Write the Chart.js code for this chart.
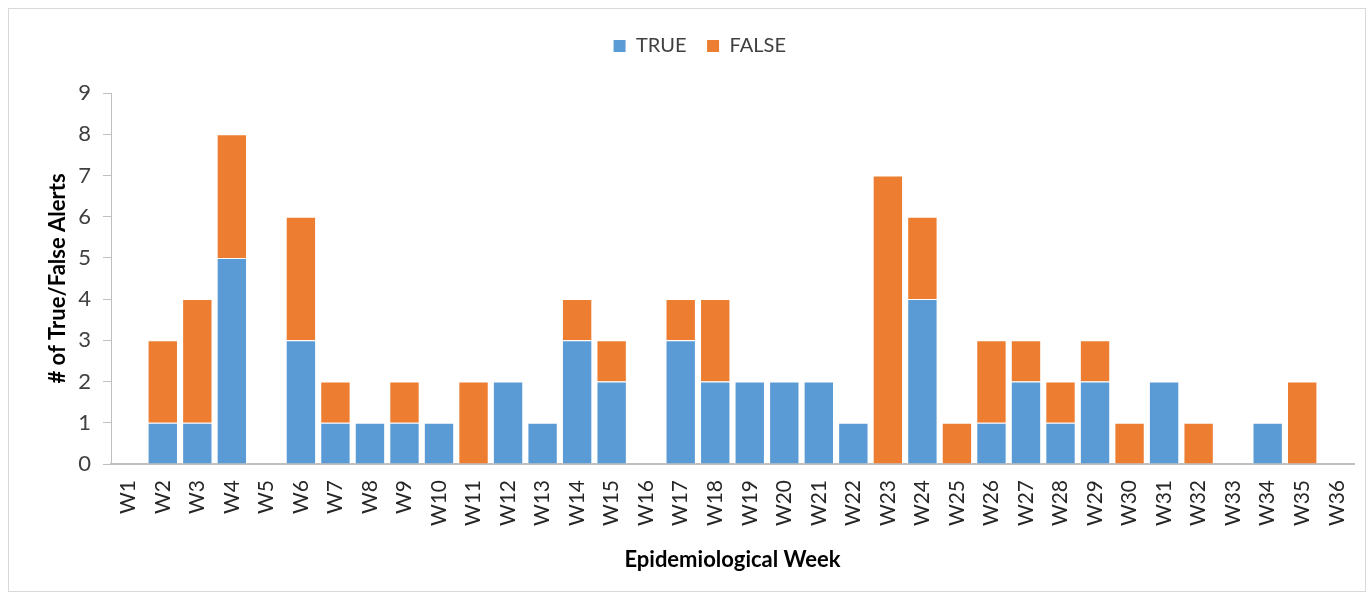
<!DOCTYPE html>
<html>
<head>
<meta charset="utf-8">
<script src="https://cdn.jsdelivr.net/npm/chart.js@4/dist/chart.umd.min.js"></script>
<style>
    body { margin: 0; background: #fff; }
    #wrap {
        position: absolute; left: 8px; top: 8px;
        width: 1356px; height: 582px;
        border: 1px solid #d9d9d9;
    }
</style>
</head>
<body>
<div id="wrap"><canvas id="alertsChart" width="1356" height="582"></canvas></div>
<script>
const weeks = ['W1','W2','W3','W4','W5','W6','W7','W8','W9','W10','W11','W12','W13','W14','W15','W16','W17','W18',
    'W19','W20','W21','W22','W23','W24','W25','W26','W27','W28','W29','W30','W31','W32','W33','W34','W35','W36'];
const trueAlerts  = [0,1,1,5,0,3,1,1,1,1,0,2,1,3,2,0,3,2,2,2,2,1,0,4,0,1,2,1,2,0,2,0,0,1,0,0];
const falseAlerts = [0,2,3,3,0,3,1,0,1,0,2,0,0,1,1,0,1,2,0,0,0,0,7,2,1,2,1,1,1,1,0,1,0,0,2,0];
const yTicks = [0,1,2,3,4,5,6,7,8,9];

const FONT = 'Lato, "Open Sans", sans-serif';
const axisGrey = '#bfbfbf';

// extra room under the legend, Excel style
const legendGap = {
    id: 'legendGap',
    beforeInit(chart) {
        const fit = chart.legend.fit;
        chart.legend.fit = function () {
            fit.bind(this)();
            this.height += 27;
        };
    }
};

const ctx = document.getElementById('alertsChart').getContext('2d');
new Chart(ctx, {
    type: 'bar',
    data: {
        labels: weeks,
        datasets: [
            { label: 'TRUE', data: trueAlerts, backgroundColor: '#5b9bd5', borderColor: '#ffffff', borderWidth: 1,
              barPercentage: 0.88, categoryPercentage: 1.0 },
            { label: 'FALSE', data: falseAlerts, backgroundColor: '#ed7d31', borderColor: '#ffffff', borderWidth: 1,
              barPercentage: 0.88, categoryPercentage: 1.0 }
        ]
    },
    plugins: [legendGap],
    options: {
        responsive: false,
        animation: false,
        layout: { padding: { top: 7, right: 11, bottom: 14, left: 36 } },
        plugins: {
            legend: {
                position: 'top',
                labels: { font: { family: FONT, size: 20 }, color: '#404040', boxWidth: 13, boxHeight: 13, padding: 20 }
            },
            tooltip: { enabled: false }
        },
        scales: {
            x: {
                stacked: true,
                grid: { display: false },
                border: { display: true, color: axisGrey, width: 2 },
                ticks: { font: { family: FONT, size: 21 }, color: '#262626', minRotation: 90, maxRotation: 90, autoSkip: false, padding: 8 },
                title: { display: true, text: 'Epidemiological Week', font: { family: FONT, size: 22, weight: 'bold' }, color: '#000', padding: { top: 10 } },
                afterFit: s => { s.height = 113; s.paddingRight = 0; s.paddingLeft = 0; }
            },
            y: {
                stacked: true,
                min: 0, max: 9,
                afterBuildTicks: s => { s.ticks = yTicks.map(v => ({ value: v })); },
                grid: { drawOnChartArea: false, drawTicks: true, tickLength: 8, color: axisGrey },
                border: { display: true, color: axisGrey, width: 1 },
                ticks: { font: { family: FONT, size: 22 }, color: '#404040', padding: 12 },
                title: { display: true, text: '# of True/False Alerts', font: { family: FONT, size: 22, weight: 'bold' }, color: '#000', padding: 0 },
                afterFit: s => { s.width = 66; }
            }
        }
    }
});
</script>
</body>
</html>
